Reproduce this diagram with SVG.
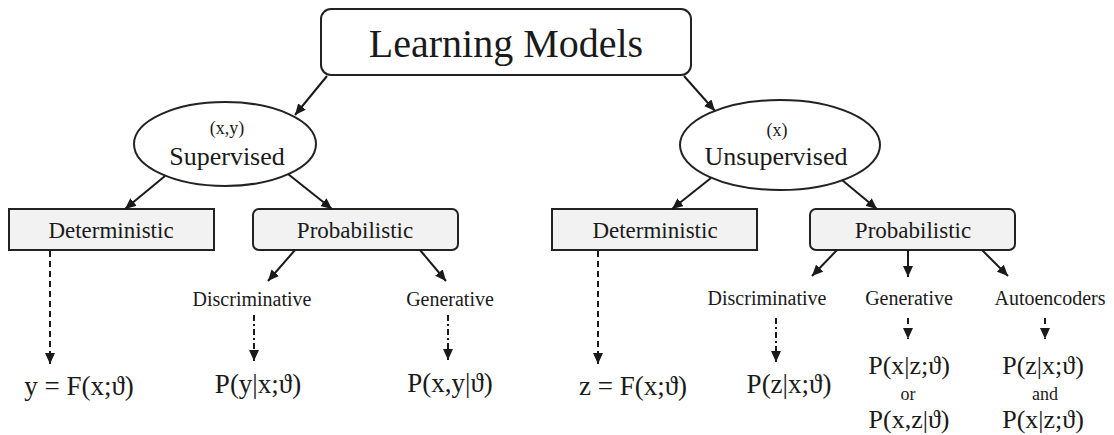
<svg xmlns="http://www.w3.org/2000/svg" width="1114" height="435" viewBox="0 0 1114 435">
<defs>
<marker id="ah" markerUnits="userSpaceOnUse" markerWidth="12" markerHeight="10" refX="11" refY="5" orient="auto">
<path d="M0,0 L11,5 L0,10 Z" fill="#1a1a1a"/>
</marker>
<style>
text{font-family:"Liberation Serif","Times New Roman",serif;fill:#1a1a1a;text-anchor:middle}
.box{fill:#f2f2f2;stroke:#222;stroke-width:2}
.root{fill:#fff;stroke:#222;stroke-width:2}
.ell{fill:#fff;stroke:#222;stroke-width:2}
.edge{stroke:#1a1a1a;stroke-width:2;fill:none;marker-end:url(#ah)}
.dash{stroke:#1a1a1a;stroke-width:2;fill:none;stroke-dasharray:6 4;marker-end:url(#ah)}
.dashdot{stroke:#1a1a1a;stroke-width:2;fill:none;stroke-dasharray:6 3 2 3;marker-end:url(#ah)}
.t40{font-size:40px}
.t26{font-size:26px}
.t23{font-size:23px}
.t20{font-size:20px}
.t18{font-size:18px}
.f{font-size:27px}
.fs{font-size:26px}
</style>
</defs>
<g id="root"><rect class="root" x="321" y="9" width="370" height="66" rx="10"/><text class="t40" x="506" y="57">Learning Models</text></g>
<g id="supervised"><ellipse class="ell" cx="225" cy="144" rx="91" ry="42"/><text class="t18" x="227" y="134">(x,y)</text><text class="t26" x="227" y="165">Supervised</text></g>
<g id="unsupervised"><ellipse class="ell" cx="780" cy="145" rx="100" ry="45"/><text class="t18" x="777" y="136">(x)</text><text class="t26" x="776" y="165">Unsupervised</text></g>
<g id="sup-det"><rect class="box" x="9" y="209" width="205" height="41"/><text class="t23" x="111" y="238">Deterministic</text></g>
<g id="sup-prob"><rect class="box" x="253" y="209" width="205" height="41" rx="6"/><text class="t23" x="355" y="238">Probabilistic</text></g>
<g id="unsup-det"><rect class="box" x="552" y="209" width="205" height="41"/><text class="t23" x="655" y="238">Deterministic</text></g>
<g id="unsup-prob"><rect class="box" x="810" y="209" width="205" height="41" rx="6"/><text class="t23" x="913" y="238">Probabilistic</text></g>
<g id="sup-disc"><text class="t20" x="252" y="306">Discriminative</text></g>
<g id="sup-gen"><text class="t20" x="450" y="306">Generative</text></g>
<g id="unsup-disc"><text class="t20" x="767" y="305">Discriminative</text></g>
<g id="unsup-gen"><text class="t20" x="909" y="305">Generative</text></g>
<g id="unsup-auto"><text class="t20" x="1050" y="305">Autoencoders</text></g>
<g id="f-sup-det"><text class="f" x="79" y="395">y = F(x;ϑ)</text></g>
<g id="f-sup-disc"><text class="f" x="258" y="393">P(y|x;ϑ)</text></g>
<g id="f-sup-gen"><text class="f" x="450" y="392">P(x,y|ϑ)</text></g>
<g id="f-unsup-det"><text class="f" x="633" y="395">z = F(x;ϑ)</text></g>
<g id="f-unsup-disc"><text class="f" x="789" y="393">P(z|x;ϑ)</text></g>
<g id="f-unsup-gen"><text class="fs" x="909" y="374">P(x|z;ϑ)</text><text class="t18" x="908" y="400">or</text><text class="fs" x="909" y="428">P(x,z|ϑ)</text></g>
<g id="f-unsup-auto"><text class="fs" x="1043" y="374">P(z|x;ϑ)</text><text class="t18" x="1045" y="400">and</text><text class="fs" x="1043" y="428">P(x|z;ϑ)</text></g>
<g id="connectors">
<line class="edge" x1="327" y1="76" x2="295" y2="115"/>
<line class="edge" x1="684" y1="76" x2="715" y2="111"/>
<line class="edge" x1="165" y1="176" x2="125" y2="209"/>
<line class="edge" x1="288" y1="174" x2="332" y2="209"/>
<line class="edge" x1="711" y1="178" x2="672" y2="209"/>
<line class="edge" x1="842" y1="180" x2="877" y2="209"/>
<line class="edge" x1="295" y1="250" x2="268" y2="281"/>
<line class="edge" x1="420" y1="250" x2="446" y2="281"/>
<line class="edge" x1="837" y1="250" x2="812" y2="276"/>
<line class="edge" x1="908" y1="250" x2="908" y2="277"/>
<line class="edge" x1="982" y1="250" x2="1008" y2="276"/>
<line class="dash" x1="50" y1="251" x2="50" y2="364"/>
<line class="dash" x1="598" y1="251" x2="598" y2="364"/>
<line class="dashdot" x1="254" y1="315" x2="254" y2="361"/>
<line class="dashdot" x1="448" y1="315" x2="448" y2="360"/>
<line class="dashdot" x1="776" y1="318" x2="776" y2="362"/>
<line class="dash" x1="908" y1="318" x2="908" y2="339"/>
<line class="dash" x1="1045" y1="318" x2="1045" y2="339"/>
</g>
</svg>
